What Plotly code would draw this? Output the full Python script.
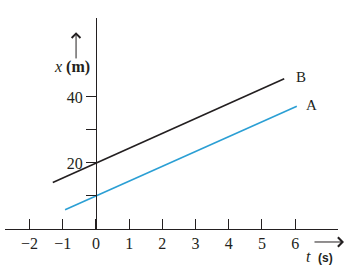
import plotly.graph_objects as go

# Data
t_A = [-0.93, 6.05]
x_A = [5.8, 37.2]
t_B = [-1.3, 5.67]
x_B = [14.1, 45.5]

x_tickvals = [-2, -1, 0, 1, 2, 3, 4, 5, 6]
x_ticktext = ["\u22122", "\u22121", "0", "1", "2", "3", "4", "5", "6"]
y_tickvals = [10, 20, 30, 40]
y_ticktext = ["", "20", "", "40"]

BLACK = "#231f20"
BLUE = "#2b9fd4"
SERIF = "Liberation Serif"
SANS = "Liberation Sans"

fig = go.Figure()
fig.add_trace(go.Scatter(x=t_B, y=x_B, mode="lines",
                         line=dict(color=BLACK, width=1.6), showlegend=False))
fig.add_trace(go.Scatter(x=t_A, y=x_A, mode="lines",
                         line=dict(color=BLUE, width=1.6), showlegend=False))

ann = []
ann.append(dict(x=5.97, y=46.0, text="B", showarrow=False, xref="x", yref="y",
                xanchor="left", font=dict(family=SERIF, size=15, color=BLACK)))
ann.append(dict(x=6.27, y=37.6, text="A", showarrow=False, xref="x", yref="y",
                xanchor="left", font=dict(family=SERIF, size=15, color=BLACK)))
ann.append(dict(x=-0.72, y=49.0, text="<i>x</i> <b>(m)</b>", showarrow=False,
                xref="x", yref="y", font=dict(family=SERIF, size=16, color=BLACK)))
# y arrow
ann.append(dict(x=-0.6, y=59.6, ax=-0.6, ay=51.2, axref="x", ayref="y", xref="x", yref="y",
                text="", showarrow=True, arrowhead=4, arrowsize=1.7, arrowwidth=1,
                arrowcolor=BLACK))
# t label (paper coords: below the axis)
ann.append(dict(x=0.9114, y=-0.1327, xref="paper", yref="paper", showarrow=False,
                xanchor="center", yanchor="middle",
                text="<i>t</i>", font=dict(family=SERIF, size=16, color=BLACK)))
ann.append(dict(x=0.961, y=-0.139, xref="paper", yref="paper", showarrow=False,
                xanchor="center", yanchor="middle",
                text="<b>(s)</b>", font=dict(family=SANS, size=12, color=BLACK)))
# t arrow
ann.append(dict(x=1.018, y=-0.0616, xref="paper", yref="paper", ax=-31, ay=0,
                text="", showarrow=True, arrowhead=4, arrowsize=1.8, arrowwidth=1,
                arrowcolor=BLACK))

fig.update_layout(
    width=348, height=269,
    margin=dict(l=5, r=10, t=18, b=40),
    paper_bgcolor="white", plot_bgcolor="white",
    annotations=ann,
    xaxis=dict(range=[-2.74, 7.29], showgrid=False, zeroline=False,
               showline=True, linecolor=BLACK, linewidth=1,
               ticks="inside", ticklen=10, tickcolor=BLACK, tickwidth=1,
               tickvals=x_tickvals, ticktext=x_ticktext,
               tickfont=dict(family=SERIF, size=16, color=BLACK)),
    yaxis=dict(range=[0, 63.9], showgrid=False, zeroline=False,
               anchor="free", position=(96 - 5) / 333,
               showline=True, linecolor=BLACK, linewidth=1,
               ticks="outside", ticklen=10, tickcolor=BLACK, tickwidth=1,
               tickvals=y_tickvals, ticktext=y_ticktext,
               tickfont=dict(family=SERIF, size=16, color=BLACK)),
)

fig.write_html("out.html")
